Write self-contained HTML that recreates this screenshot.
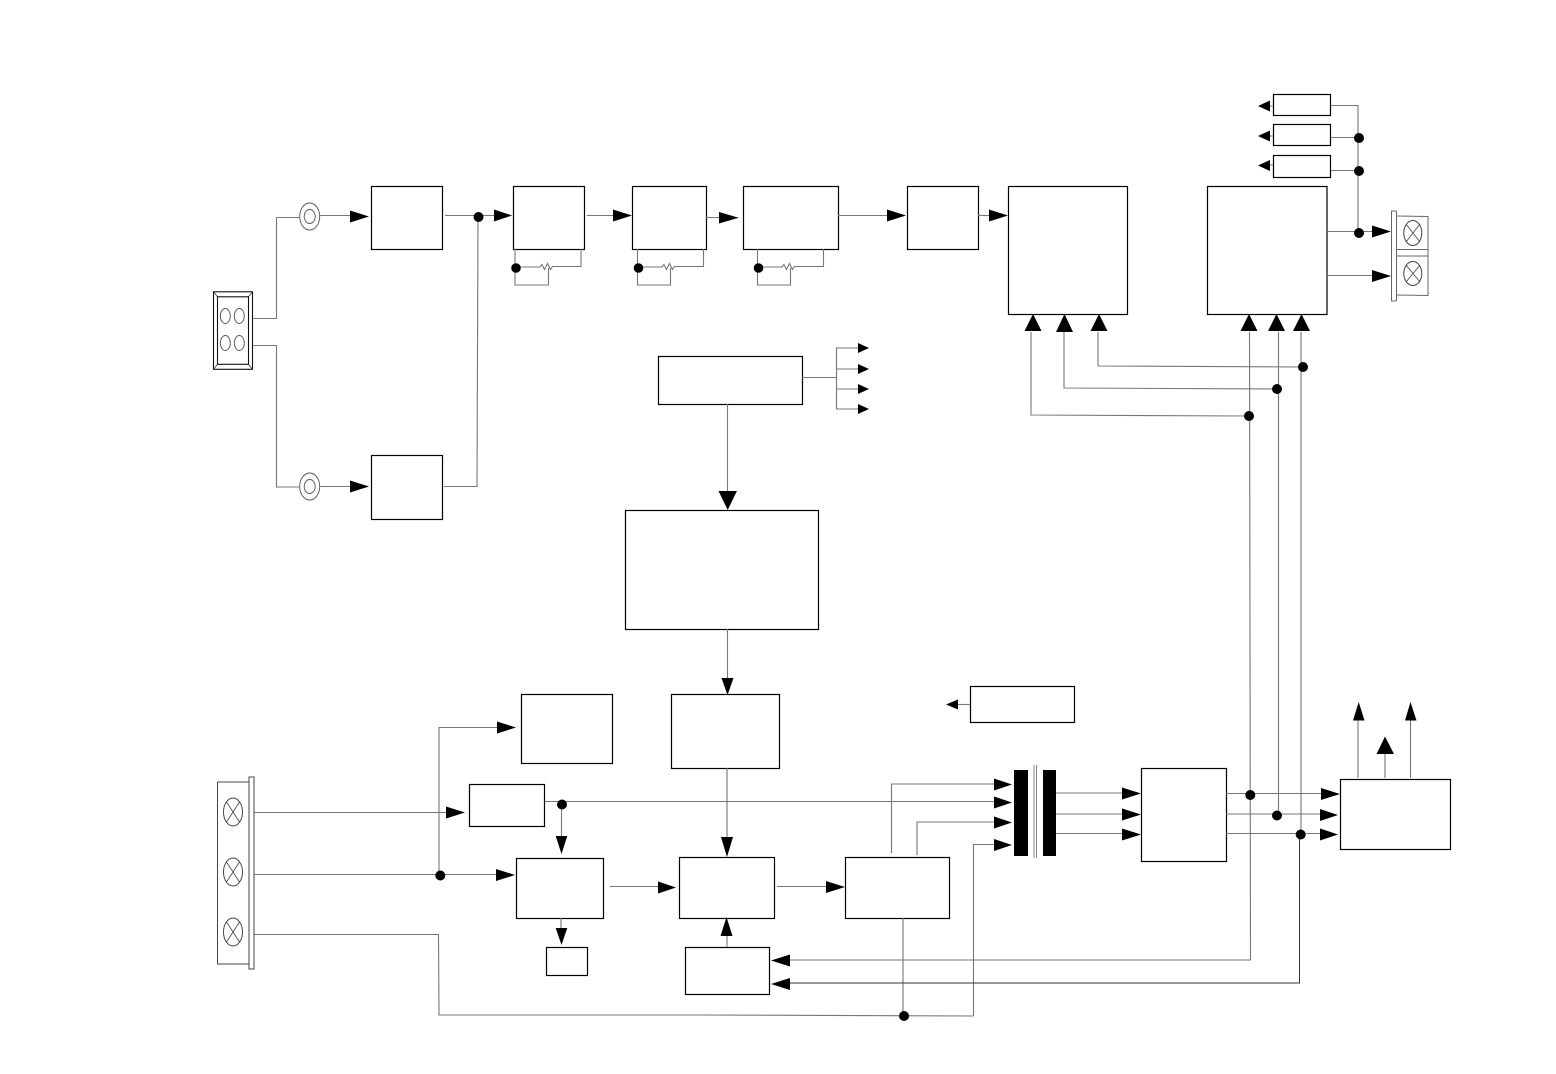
<!DOCTYPE html>
<html><head><meta charset="utf-8"><style>
html,body{margin:0;padding:0;background:#fff}
svg{display:block}
.b rect{fill:none;stroke:#000;stroke-width:1.2}
.w{fill:none;stroke:#777;stroke-width:1.1}
.s{fill:none;stroke:#555;stroke-width:1}
.k{fill:none;stroke:#333;stroke-width:1}
</style></head><body>
<svg xmlns="http://www.w3.org/2000/svg" width="1556" height="1074" viewBox="0 0 1556 1074">
<rect width="1556" height="1074" fill="#fff"/>
<g class="b">
<rect x="371.5" y="186.5" width="71" height="63"/>
<rect x="513.5" y="186.5" width="71" height="63"/>
<rect x="632.5" y="186.5" width="74" height="63"/>
<rect x="743.5" y="186.5" width="95" height="63"/>
<rect x="907.5" y="186.5" width="71" height="63"/>
<rect x="1008.5" y="186.5" width="119" height="128"/>
<rect x="1207.5" y="186.5" width="119.500" height="128"/>
<rect x="1273.500" y="94.500" width="57" height="21"/>
<rect x="1273.500" y="124.500" width="57" height="21"/>
<rect x="1273.500" y="155.500" width="57" height="22"/>
<rect x="371.500" y="455.500" width="71" height="64"/>
<rect x="658.500" y="356.500" width="144" height="48"/>
<rect x="625.500" y="510.500" width="193" height="119"/>
<rect x="521.500" y="694.500" width="91" height="69"/>
<rect x="671.500" y="694.500" width="108" height="74"/>
<rect x="469.500" y="784.500" width="75" height="42"/>
<rect x="516.500" y="858.500" width="87" height="60"/>
<rect x="679.500" y="857.500" width="95" height="61"/>
<rect x="845.500" y="857.500" width="104" height="61"/>
<rect x="546.500" y="947.500" width="41" height="28"/>
<rect x="685.500" y="947.500" width="84" height="47"/>
<rect x="970.500" y="686.500" width="104" height="36"/>
<rect x="1141.500" y="768.500" width="85" height="93"/>
<rect x="1340.500" y="779.500" width="110" height="70"/>
</g>

<!-- top-left connector -->
<g fill="none" stroke="#111" stroke-width="1.1">
<rect x="213.500" y="291.800" width="39" height="77.500"/>
<rect x="217.500" y="296.800" width="31" height="67.500"/>
<path d="M213.500 291.800l4 5M252.500 291.800l-4 5M213.500 369.300l4-5M252.500 369.300l-4-5" stroke-width=".7"/>
</g>
<g fill="none" stroke="#555" stroke-width=".9">
<ellipse cx="225.300" cy="316" rx="5" ry="7.500"/>
<ellipse cx="239.300" cy="316" rx="5" ry="7.500"/>
<ellipse cx="225.300" cy="343" rx="5" ry="7.500"/>
<ellipse cx="239.300" cy="343" rx="5" ry="7.500"/>
<ellipse cx="309.700" cy="216.500" rx="10" ry="13.500"/>
<ellipse cx="309.700" cy="216.500" rx="5.500" ry="7"/>
<ellipse cx="309.700" cy="486.500" rx="10" ry="13.500"/>
<ellipse cx="309.700" cy="486.500" rx="5.500" ry="7"/>
</g>

<g class="w">
<path d="M253 318.500H276.500V217.500H300"/>
<path d="M253 345.500H276.500V487H300"/>
<path d="M320 215.500H351"/>
<path d="M320 486.500H351"/>
<path d="M445 215.500H494"/>
<path d="M478 217L477 486.500H444"/>
<path d="M515 249V285H548.500V268"/>
<path d="M516 267H540l2-2.500 2.500 5 3-6 3 6 2-3H581V249"/>
<path d="M637.500 249V285H670.500V268"/>
<path d="M638 267H662l2-2.500 2.500 5 3-6 3 6 2-3H703.500V249"/>
<path d="M757.500 249V285H790.500V268"/>
<path d="M758 267H782l2-2.500 2.500 5 3-6 3 6 2-3H823.500V249"/>
<path d="M587 215.500H614"/>
<path d="M706 217.500H720"/>
<path d="M838 215.500H888"/>
<path d="M978 215.500H990"/>
<!-- top-right -->
<path d="M1331 105.500H1358V233"/>
<path d="M1331 137.500H1358"/>
<path d="M1331 170.500H1358"/>
<path d="M1327 231.500H1373"/>
<path d="M1327 275.500H1373"/>
<path d="M1273 106H1268M1273 136H1268M1273 165H1268"/>
<!-- power -->
<path d="M802 377.500H836.500"/>
<path d="M836.500 347.500V409.500"/>
<path d="M836.500 348H859M836.500 369H859M836.500 389H859M836.500 409H859"/>
<path d="M727.500 404V492"/>
<path d="M727.500 629V679"/>
<!-- feedback bus -->
<path d="M1031 332V415L1249 416"/>
<path d="M1064 332V388L1277 389"/>
<path d="M1098 332V366L1303 367"/>
<path d="M1249.500 332L1250.500 960H789"/>
<path d="M1278.500 332V815"/>
<path d="M1301 332V834"/>
<path d="M1226 793.500H1322"/>
<path d="M1226 814H1321"/>
<path d="M1226 833.500H1321"/>
<path d="M1358 778V720"/>
<path d="M1385 778V753"/>
<path d="M1410.500 778V720"/>
<path d="M970 704.500H958"/>
<!-- transformer -->
<path d="M891.500 853V784H995"/>
<path d="M545 801.500H995"/>
<path d="M917 855V822H995"/>
<path d="M973.500 1016V844.500H995"/>
<path d="M1056 793H1123M1056 814H1123M1056 833.500H1123"/>
<path d="M1034 765V858" stroke="#888" stroke-width="1"/>
<path d="M1036.500 765V858" stroke="#888" stroke-width="1"/>
<!-- lower left -->
<path d="M254 812.500H447"/>
<path d="M254 874.500H498"/>
<path d="M254 934.500H438.500L439 1015H700L973.500 1016"/>
<path d="M439 875V727.500H497"/>
<path d="M561.500 804V837"/>
<path d="M610 886.500H659"/>
<path d="M727 768V838"/>
<path d="M777 886.500H827"/>
<path d="M561 918V928"/>
<path d="M727 947V935"/>
<path d="M903 918V1016"/>
</g>
<path d="M1299.500 834V983H789" fill="none" stroke="#333" stroke-width="1"/>

<!-- left connector -->
<g fill="none" stroke="#444" stroke-width="1">
<path d="M217.500 782H248.500M217.500 964H248.500M217.500 782V964"/>
<rect x="249" y="777" width="5" height="192"/>
<ellipse cx="233" cy="812" rx="9.500" ry="14"/>
<ellipse cx="233" cy="872" rx="9.500" ry="14"/>
<ellipse cx="233" cy="932" rx="9.500" ry="14"/>
<path d="M226.500 802L239.500 822M239.500 802L226.500 822M226.500 862L239.500 882M239.500 862L226.500 882M226.500 922L239.500 942M239.500 922L226.500 942" stroke-width=".8"/>
<!-- right connector -->
<path d="M1391.500 211V301M1396.500 211V301M1391 211H1396M1391 301H1396" stroke="#666"/>
<path d="M1396.500 216L1428 216.500V295.500L1396.500 295M1396.500 249.500H1428M1396.500 256H1428" stroke="#666"/>
<ellipse cx="1412.800" cy="233" rx="9" ry="12.500"/>
<ellipse cx="1412.800" cy="273.500" rx="9" ry="12"/>
<path d="M1406 224L1420 242M1420 224L1406 242M1406 265L1420 282M1420 265L1406 282" stroke-width=".8"/>
</g>

<!-- transformer bars -->
<rect x="1014" y="770" width="14" height="86" fill="#000"/>
<rect x="1043" y="770" width="13" height="86" fill="#000"/>

<!-- arrowheads -->
<g fill="#000">
<!-- right -->
<polygon points="369,216.500 350,210.500 350,222.500"/>
<polygon points="369,486.500 350,480.500 350,492.500"/>
<polygon points="512,215.500 494,209.500 494,221.500"/>
<polygon points="632,215.500 613,209.500 613,221.500"/>
<polygon points="738.700,217.700 719,212 719,223.500"/>
<polygon points="906,215.500 887,209.500 887,221.500"/>
<polygon points="1008,215.500 989,209.500 989,221.500"/>
<polygon points="1391,231.500 1372,225.500 1372,237.500"/>
<polygon points="1391,276 1372,270 1372,282"/>
<polygon points="869,348 858,343 858,353"/>
<polygon points="869,369 858,364 858,374"/>
<polygon points="869,389 858,384 858,394"/>
<polygon points="869,409 858,404 858,414"/>
<polygon points="1012,784.500 994,778.500 994,790.500"/>
<polygon points="1012,802.500 994,796.500 994,808.500"/>
<polygon points="1012,822.500 994,816.500 994,828.500"/>
<polygon points="1012,845 994,839 994,851"/>
<polygon points="1141,793.500 1122,787.500 1122,799.500"/>
<polygon points="1141,814.500 1122,808.500 1122,820.500"/>
<polygon points="1141,834.500 1122,828.500 1122,840.500"/>
<polygon points="1340,794 1321,788 1321,800"/>
<polygon points="1338,815 1320,809 1320,821"/>
<polygon points="1338,834.500 1320,828.500 1320,840.500"/>
<polygon points="465,812.500 446,806.500 446,818.500"/>
<polygon points="515,875 496,869 496,881"/>
<polygon points="516,727.500 497,721.500 497,733.500"/>
<polygon points="676,887.500 658,881.500 658,893.500"/>
<polygon points="845,887 826,881 826,893"/>
<!-- left -->
<polygon points="1258,106 1270,100.500 1270,111.500"/>
<polygon points="1258,136 1270,130.500 1270,141.500"/>
<polygon points="1258,165.500 1270,160 1270,171"/>
<polygon points="946,704.500 958,699.500 958,709.500"/>
<polygon points="771,960.500 790,954.500 790,966.500"/>
<polygon points="771,984 790,978 790,990"/>
<!-- down -->
<polygon points="727.700,510 718.500,491 736.900,491"/>
<polygon points="727.500,695 721.500,678 733.500,678"/>
<polygon points="561.500,854 555.700,836 567.300,836"/>
<polygon points="727,857 721,837 733,837"/>
<polygon points="561.500,945 555.700,928 567.300,928"/>
<!-- up -->
<polygon points="1033,314 1024.500,331 1041.500,331"/>
<polygon points="1064.500,314 1056,332 1073,332"/>
<polygon points="1099,314 1090.500,331 1107.500,331"/>
<polygon points="1249,314 1240.500,331 1257.500,331"/>
<polygon points="1276.500,314 1268,331 1285,331"/>
<polygon points="1301.500,314 1293,331 1310,331"/>
<polygon points="1358.700,702 1353,720.500 1364.500,720.500"/>
<polygon points="1385,736.500 1376.500,754 1394,754"/>
<polygon points="1410.500,702 1405,720.500 1416.500,720.500"/>
<polygon points="726.500,917 720.500,936 732.500,936"/>
<!-- dots -->
<circle cx="478.500" cy="217" r="5"/>
<circle cx="516" cy="268" r="4.800"/>
<circle cx="638.500" cy="268" r="4.800"/>
<circle cx="758.500" cy="268" r="4.800"/>
<circle cx="1359" cy="138" r="5"/>
<circle cx="1359" cy="171" r="5"/>
<circle cx="1359" cy="233" r="5"/>
<circle cx="1249" cy="416" r="5"/>
<circle cx="1277" cy="389" r="5"/>
<circle cx="1303" cy="367" r="5"/>
<circle cx="1250.300" cy="795" r="5"/>
<circle cx="1277" cy="815.500" r="5"/>
<circle cx="1300.700" cy="834.500" r="5"/>
<circle cx="440.300" cy="875.500" r="5"/>
<circle cx="562" cy="804.500" r="5"/>
<circle cx="904" cy="1016" r="5"/>
</g>
</svg>
</body></html>
